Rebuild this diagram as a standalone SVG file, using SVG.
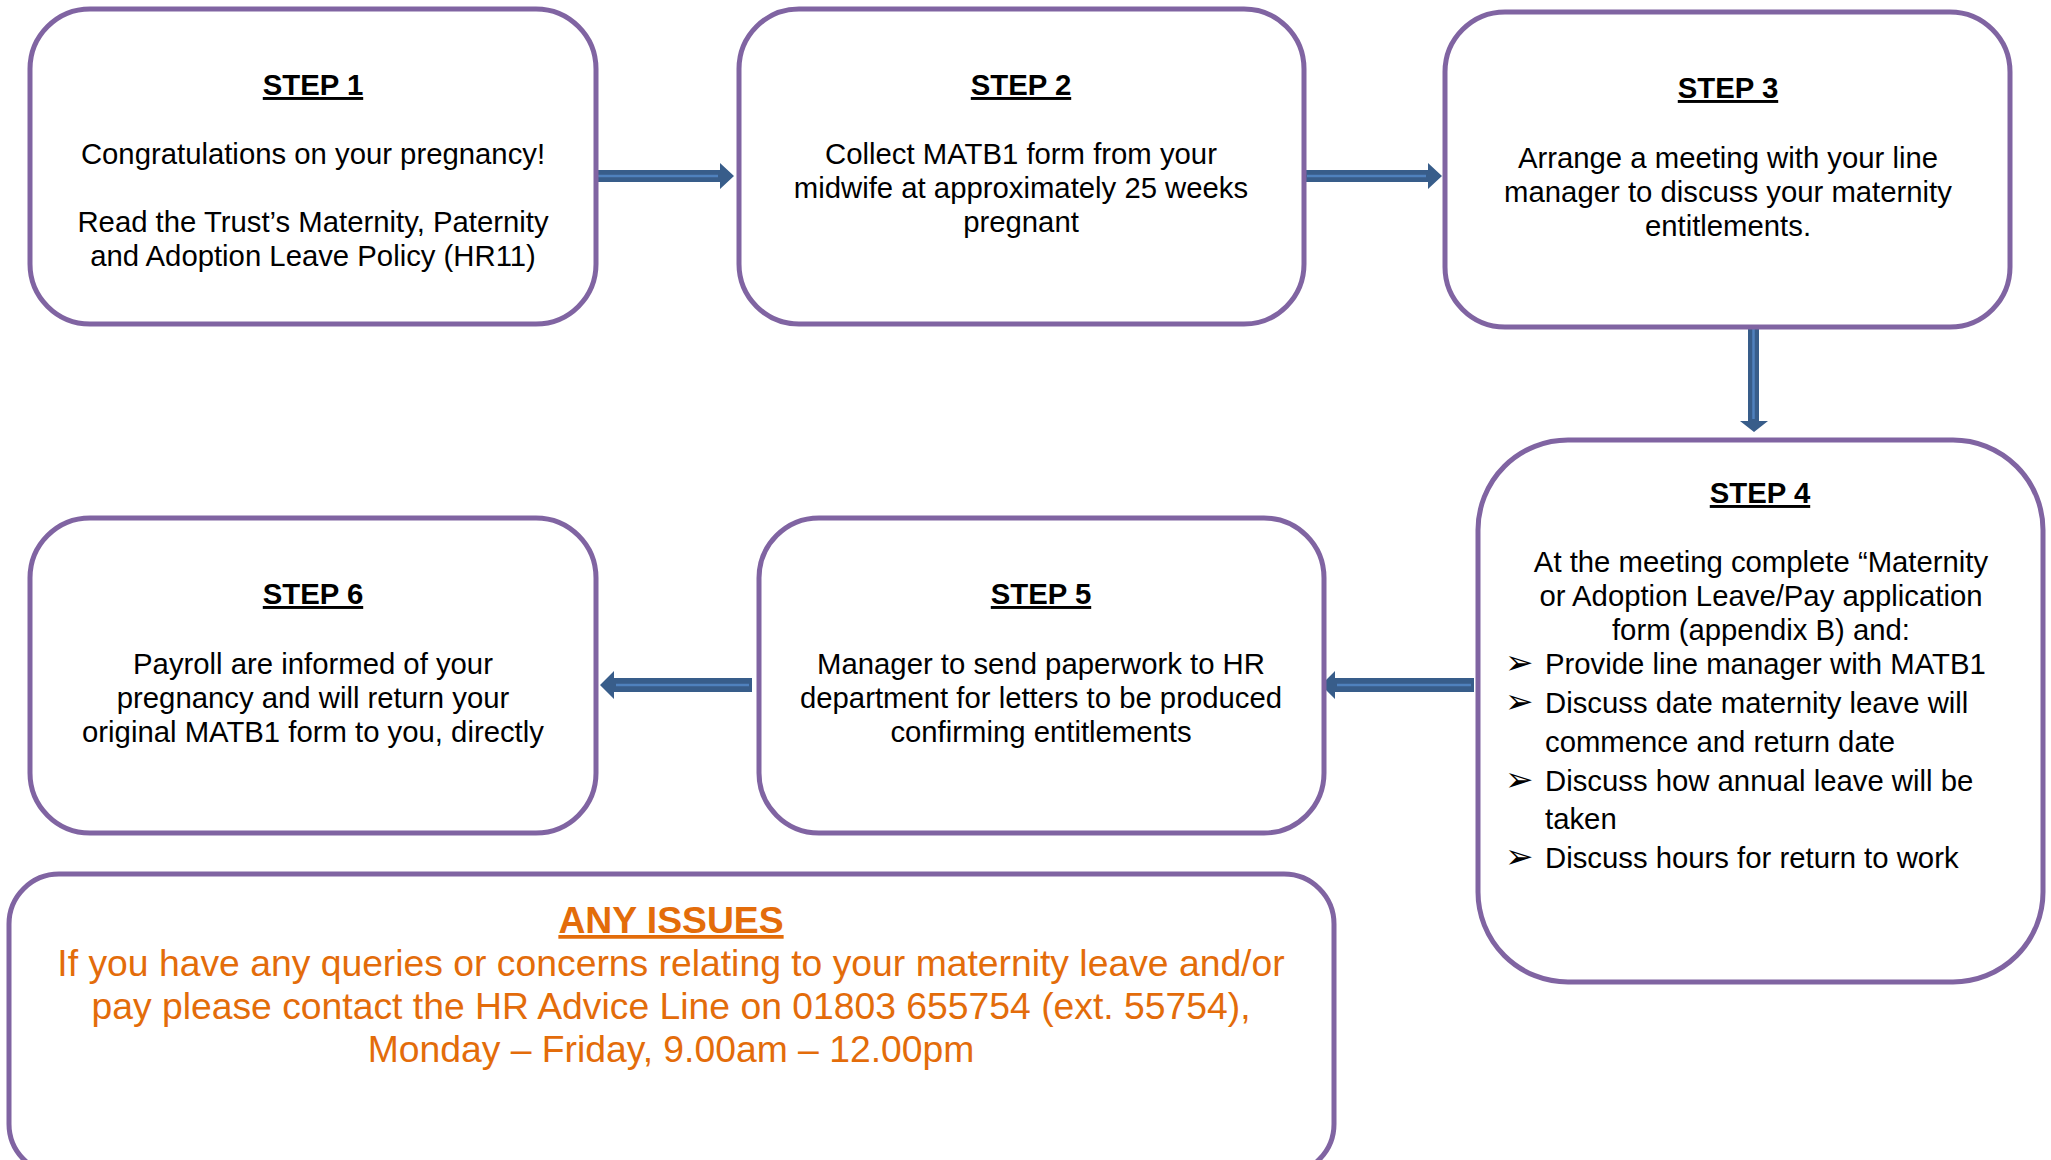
<svg xmlns="http://www.w3.org/2000/svg" width="2051" height="1160" viewBox="0 0 2051 1160">
<style>
.box{fill:#fff;stroke:#8064A2;stroke-width:5}
.t{font-family:"Liberation Sans",Arial,sans-serif;font-size:29.3px;fill:#000;text-anchor:middle}
.h{font-family:"Liberation Sans",Arial,sans-serif;font-size:29.3px;font-weight:bold;fill:#000;text-anchor:middle;text-decoration:underline}
.b{font-family:"Liberation Sans",Arial,sans-serif;font-size:29.3px;fill:#000}
.bul{font-family:"DejaVu Sans",sans-serif;font-size:34px;fill:#000}
.arr{fill:#385D8A}
.in{stroke:#4F81BD;stroke-width:2.5;fill:none}
.o{font-family:"Liberation Sans",Arial,sans-serif;font-size:37.3px;fill:#E36C0A;text-anchor:middle}
.oh{font-family:"Liberation Sans",Arial,sans-serif;font-size:37.3px;font-weight:bold;fill:#E36C0A;text-anchor:middle;text-decoration:underline}
</style>
<rect width="2051" height="1160" fill="#fff"/>
<g id="connectors">
<polygon class="arr" points="592,170 720,170 720,163 734,176 720,189 720,182 592,182"/>
<line class="in" x1="595" y1="176" x2="718" y2="176"/>
<polygon class="arr" points="1304,170 1428,170 1428,163 1442,176 1428,189 1428,182 1304,182"/>
<line class="in" x1="1307" y1="176" x2="1426" y2="176"/>
<polygon class="arr" points="1748,327 1759,327 1759,421 1768,421 1754,432 1740,421 1748,421"/>
<line class="in" x1="1753.5" y1="329" x2="1753.5" y2="419"/>
<polygon class="arr" points="1474,678 1335,678 1335,671 1321,685 1335,699 1335,692 1474,692"/>
<line class="in" x1="1471" y1="685" x2="1337" y2="685"/>
<polygon class="arr" points="752,678 614,678 614,671 600,685 614,699 614,692 752,692"/>
<line class="in" x1="749" y1="685" x2="616" y2="685"/>
</g>
<g id="step1">
<rect class="box" x="30" y="9" width="566" height="315" rx="60"/>
<text class="h" x="313" y="95">STEP 1</text>
<text class="t" x="313" y="164">Congratulations on your pregnancy!</text>
<text class="t" x="313" y="232">Read the Trust’s Maternity, Paternity</text>
<text class="t" x="313" y="266">and Adoption Leave Policy (HR11)</text>
</g>
<g id="step2">
<rect class="box" x="739" y="9" width="565" height="315" rx="60"/>
<text class="h" x="1021" y="95">STEP 2</text>
<text class="t" x="1021" y="164">Collect MATB1 form from your</text>
<text class="t" x="1021" y="198">midwife at approximately 25 weeks</text>
<text class="t" x="1021" y="232">pregnant</text>
</g>
<g id="step3">
<rect class="box" x="1445" y="12" width="565" height="315" rx="60"/>
<text class="h" x="1728" y="98">STEP 3</text>
<text class="t" x="1728" y="168">Arrange a meeting with your line</text>
<text class="t" x="1728" y="202">manager to discuss your maternity</text>
<text class="t" x="1728" y="236">entitlements.</text>
</g>
<g id="step4">
<rect class="box" x="1478" y="440" width="565" height="542" rx="90"/>
<text class="h" x="1760" y="503">STEP 4</text>
<text class="t" x="1761" y="572">At the meeting complete “Maternity</text>
<text class="t" x="1761" y="606">or Adoption Leave/Pay application</text>
<text class="t" x="1761" y="640">form (appendix B) and:</text>
<text class="bul" x="1505" y="674">➢</text>
<text class="b" x="1545" y="674">Provide line manager with MATB1</text>
<text class="bul" x="1505" y="713">➢</text>
<text class="b" x="1545" y="713">Discuss date maternity leave will</text>
<text class="b" x="1545" y="752">commence and return date</text>
<text class="bul" x="1505" y="791">➢</text>
<text class="b" x="1545" y="791">Discuss how annual leave will be</text>
<text class="b" x="1545" y="829">taken</text>
<text class="bul" x="1505" y="868">➢</text>
<text class="b" x="1545" y="868">Discuss hours for return to work</text>
</g>
<g id="step5">
<rect class="box" x="759" y="518" width="565" height="315" rx="60"/>
<text class="h" x="1041" y="604">STEP 5</text>
<text class="t" x="1041" y="674">Manager to send paperwork to HR</text>
<text class="t" x="1041" y="708">department for letters to be produced</text>
<text class="t" x="1041" y="742">confirming entitlements</text>
</g>
<g id="step6">
<rect class="box" x="30" y="518" width="566" height="315" rx="60"/>
<text class="h" x="313" y="604">STEP 6</text>
<text class="t" x="313" y="674">Payroll are informed of your</text>
<text class="t" x="313" y="708">pregnancy and will return your</text>
<text class="t" x="313" y="742">original MATB1 form to you, directly</text>
</g>
<g id="issues">
<rect class="box" x="9" y="874" width="1325" height="300" rx="50"/>
<text class="oh" x="671" y="933">ANY ISSUES</text>
<text class="o" x="671" y="976">If you have any queries or concerns relating to your maternity leave and/or</text>
<text class="o" x="671" y="1019">pay please contact the HR Advice Line on 01803 655754 (ext. 55754),</text>
<text class="o" x="671" y="1062">Monday – Friday, 9.00am – 12.00pm</text>
</g>
</svg>
